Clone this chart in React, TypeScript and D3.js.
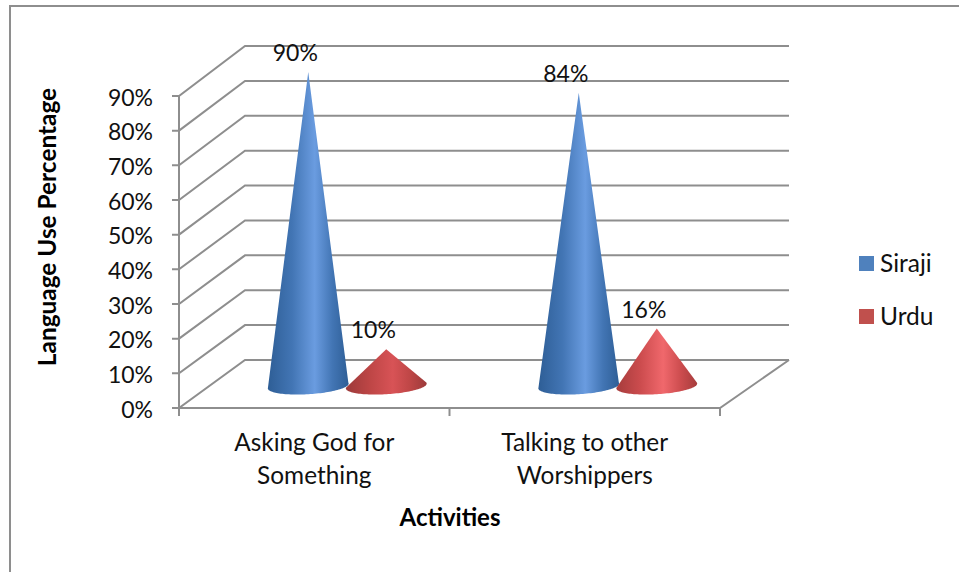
import React from "react";
import * as d3 from "d3";

const categories = ["Asking God for Something", "Talking to other Worshippers"];
const categoryLines = [["Asking God for", "Something"], ["Talking to other", "Worshippers"]];
const seriesNames = ["Siraji", "Urdu"];
const sirajiValues = [90, 84];
const urduValues = [10, 16];
const yTicks = [0, 10, 20, 30, 40, 50, 60, 70, 80, 90];

const WIDTH = 959;
const HEIGHT = 572;
const FONT = "Lato, Carlito, 'Open Sans', sans-serif";
const GRID = "#8e8e8e";

// Oblique projection of the plot box: the back wall sits up and to the right of the front edge.
const frontLeft = 179;
const frontRight = 720;
const frontBottom = 408;
const depthX = 66;
const depthY = 48;
const backRight = 789;

const y = d3.scaleLinear().domain([0, 90]).range([frontBottom, 96]);
const yBack = d3.scaleLinear().domain([0, 90]).range([frontBottom - depthY, 46]);
const x0 = d3.scaleBand<string>().domain(categories).range([frontLeft, frontRight]);
const x1 = d3.scaleBand<string>().domain(seriesNames).range([-78, 78]);

const unit = frontBottom - y(1);
const coneRx = 40.5;
const coneRy = 8.2;
const coneTilt = (-3.5 * Math.PI) / 180;

function conePath(cx: number, cy: number, apexY: number): string {
  // Point on the tilted base ellipse at parameter t
  const pt = (t: number): [number, number] => {
    const ex = coneRx * Math.cos(t);
    const ey = coneRy * Math.sin(t);
    return [
      cx + ex * Math.cos(coneTilt) - ey * Math.sin(coneTilt),
      cy + ex * Math.sin(coneTilt) + ey * Math.cos(coneTilt),
    ];
  };
  const apex: [number, number] = [cx, apexY];
  const arc = d3.range(-0.12, Math.PI + 0.12, 0.05).map(pt);
  return d3.line()([apex, ...arc, apex]) + "Z";
}

const cones = categories.flatMap((c, i) => {
  const center = x0(c)! + x0.bandwidth() / 2 + depthX / 2;
  return seriesNames.map((s, si) => {
    const value = (si === 0 ? sirajiValues : urduValues)[i];
    return {
      key: `${c}-${s}`,
      value,
      cx: center + x1(s)! + x1.bandwidth() / 2,
      gradient: si === 0 ? "sirajiCone" : i === 0 ? "urduConeMuted" : "urduConeBright",
    };
  });
});

const midFloor = frontBottom - depthY / 2;
const baseY = midFloor + 2;

function ConeStops({ edge, mid, center }: { edge: string; mid: string; center: string }) {
  return (
    <>
      <stop offset="0" stopColor={edge} />
      <stop offset="0.3" stopColor={mid} />
      <stop offset="0.58" stopColor={center} />
      <stop offset="0.8" stopColor={mid} />
      <stop offset="1" stopColor={edge} />
    </>
  );
}

export default function App() {
  return (
    <svg
      width={WIDTH}
      height={HEIGHT}
      viewBox={`0 0 ${WIDTH} ${HEIGHT}`}
      style={{ position: "absolute", left: 0, top: 0, background: "#fff" }}
      fontFamily={FONT}
    >
      <defs>
        <linearGradient id="sirajiCone" x1="0" x2="1" y1="0" y2="0">
          <ConeStops edge="#2e5e96" mid="#4275b4" center="#6a9ce0" />
        </linearGradient>
        <linearGradient id="urduConeMuted" x1="0" x2="1" y1="0" y2="0">
          <ConeStops edge="#9c3a3a" mid="#be4646" center="#d85356" />
        </linearGradient>
        <linearGradient id="urduConeBright" x1="0" x2="1" y1="0" y2="0">
          <ConeStops edge="#a63c3c" mid="#cc4c4e" center="#f0686c" />
        </linearGradient>
      </defs>

      {/* Outer chart border */}
      <path d="M10,572V6H959" fill="none" stroke={GRID} strokeWidth={2} />

      {/* Gridlines running along the left wall and back wall */}
      {yTicks.map((t) => (
        <path
          key={t}
          fill="none"
          stroke={GRID}
          strokeWidth={2}
          d={d3.line()([
            [frontLeft - 7, y(t)],
            [frontLeft, y(t)],
            [frontLeft + depthX, yBack(t)],
            [backRight, yBack(t)],
          ])!}
        />
      ))}

      {/* Axis lines, floor edges and category ticks */}
      <g fill="none" stroke={GRID} strokeWidth={2}>
        <line x1={frontLeft} x2={frontLeft} y1={y(90)} y2={frontBottom} />
        <path
          d={d3.line()([
            [frontLeft, frontBottom],
            [frontRight, frontBottom],
            [backRight, yBack(0)],
          ])!}
        />
        {[...categories.map((c) => x0(c)!), frontRight].map((px) => (
          <line key={px} x1={px} x2={px} y1={frontBottom} y2={frontBottom + 8} />
        ))}
      </g>

      {/* Cones */}
      {cones.map((c) => (
        <path
          key={c.key}
          d={conePath(c.cx, baseY, midFloor - c.value * unit)}
          fill={`url(#${c.gradient})`}
        />
      ))}

      {/* Value labels */}
      <g fontSize={23} fill="#111" textAnchor="middle">
        {cones.map((c) => (
          <text key={c.key} x={c.cx - 13} y={midFloor - c.value * unit - 11}>
            {c.value}%
          </text>
        ))}
      </g>

      {/* Value axis labels */}
      <g fontSize={23} fill="#111" textAnchor="end">
        {yTicks.map((t) => (
          <text key={t} x={153} y={y(t) + 9.5}>
            {t}%
          </text>
        ))}
      </g>

      {/* Category labels */}
      <g fontSize={24.4} fill="#111" textAnchor="middle">
        {categories.map((c, i) => (
          <text key={c} x={x0(c)! + x0.bandwidth() / 2} y={451}>
            {categoryLines[i].map((line, li) => (
              <tspan key={line} x={x0(c)! + x0.bandwidth() / 2} dy={li === 0 ? 0 : 33}>
                {line}
              </tspan>
            ))}
          </text>
        ))}
      </g>

      {/* Axis titles */}
      <text x={450} y={526} fontSize={24} fontWeight={700} fill="#000" textAnchor="middle">
        Activities
      </text>
      <text
        transform="translate(56,227) rotate(-90)"
        fontSize={24.4}
        fontWeight={700}
        fill="#000"
        textAnchor="middle"
      >
        Language Use Percentage
      </text>

      {/* Legend */}
      {seriesNames.map((s, i) => (
        <g key={s} transform={`translate(859,${256 + i * 53})`}>
          <rect width={15} height={15} fill={i === 0 ? "#4f81bd" : "#c0504d"} />
          <text x={21} y={16} fontSize={24.5} fill="#111">
            {s}
          </text>
        </g>
      ))}
    </svg>
  );
}
